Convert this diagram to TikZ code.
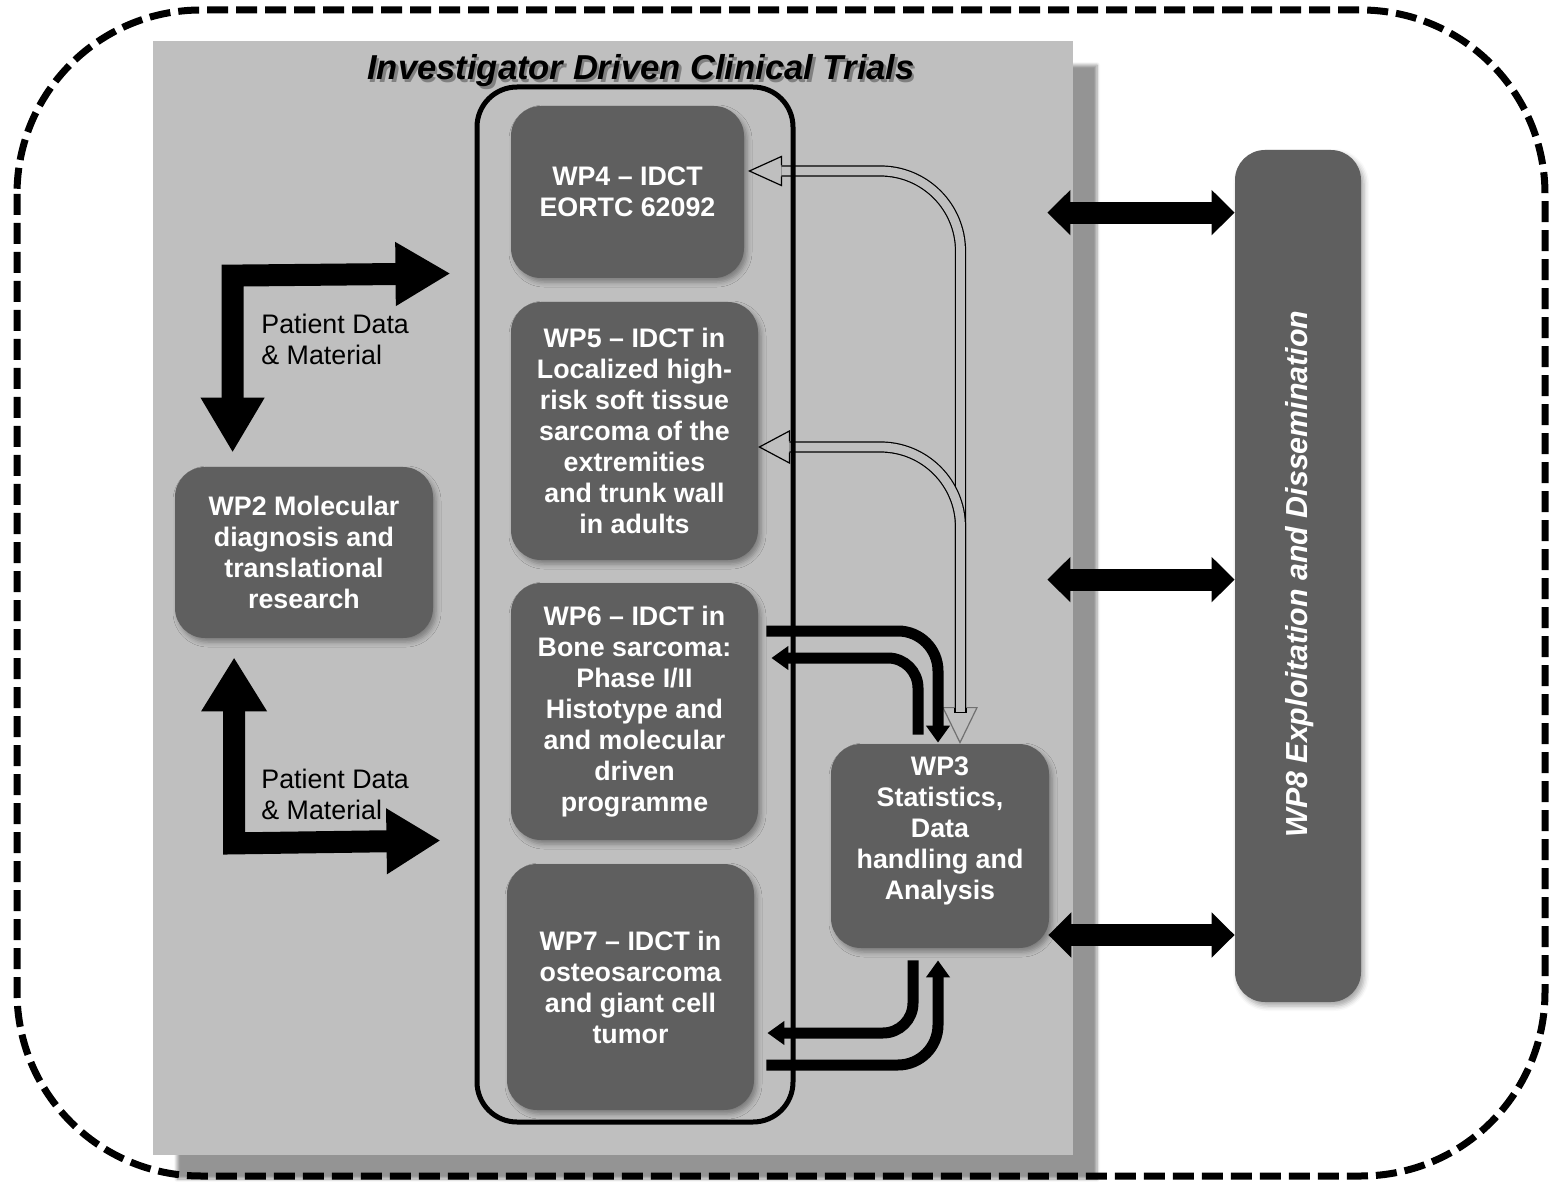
\documentclass[tikz,border=0pt]{standalone}
\usepackage{fontspec}
\setmainfont{Liberation Sans}
\usetikzlibrary{arrows.meta,calc,shadows.blur}

\definecolor{panelgray}{HTML}{BFBFBF}
\definecolor{boxgray}{HTML}{5F5F5F}
\definecolor{tipgray}{HTML}{707070}

\tikzset{
  panel/.style={rectangle, fill=panelgray, inner sep=0pt,
    blur shadow={shadow xshift=12pt, shadow yshift=-12pt, shadow blur radius=1.5pt,
      shadow blur steps=6, shadow opacity=42}},
  wpbox/.style={rectangle, rounded corners=15pt, fill=boxgray, inner sep=0pt,
    text=white, align=center, font=\bfseries\fontsize{13.4}{15.5}\selectfont,
    blur shadow={shadow xshift=1.5pt, shadow yshift=-2pt, shadow blur radius=2.5pt, shadow opacity=35}},
  wptext/.style={text=white, align=center, inner sep=0pt,
    font=\bfseries\fontsize{13.4}{15.5}\selectfont},
  note/.style={anchor=west, align=left, inner sep=0pt, font=\fontsize{13.4}{15.5}\selectfont},
  title/.style={font=\bfseries\itshape\fontsize{17.3}{20}\selectfont, inner sep=0pt},
  bigL/.style={draw=black, line width=11pt, line join=miter},
  link/.style={draw=black, line width=11pt,
    {Triangle[length=11.5pt,width=22pt]}-{Triangle[length=11.5pt,width=22pt]}},
  flow/.style={draw=black, line width=5.5pt, -{Triangle[length=8.5pt,width=11.5pt]}},
  hollow/.style={draw=black, line width=0.6pt, double=panelgray, double distance=4.4pt,
    rounded corners=40pt},
  hollowtip/.style={draw=black, line width=0.6pt, line join=miter},
}

\begin{document}
\begin{tikzpicture}[x=0.5pt, y=-0.5pt]
  \useasboundingbox (0,0) rectangle (1549,1182);

  % grey trial area with its drop shadow
  \node[panel, minimum width=460pt, minimum height=557pt] (idct) at (613,598) {};

  % dashed project frame
  \draw[line width=3.5pt, dash pattern=on 10.5pt off 4pt, rounded corners=92pt]
    (17,10) rectangle (1545,1176);

  % title of the trial area
  \node[title, text=black!60, opacity=0.7] at (643.5,73.5) {Investigator Driven Clinical Trials};
  \node[title] (ttl) at (641,71) {Investigator Driven Clinical Trials};

  % work package boxes
  \node[wpbox, minimum width=116.5pt, minimum height=86pt] (wp4) at (627.5,192)
    {WP4 -- IDCT\\EORTC 62092};
  \node[wpbox, minimum width=123.5pt, minimum height=129pt] (wp5) at (634.5,431)
    {WP5 -- IDCT in\\Localized high-\\risk soft tissue\\sarcoma of the\\extremities\\and trunk wall\\in adults};
  \node[wpbox, minimum width=123.5pt, minimum height=128.5pt] (wp6) at (634.5,711.5)
    {WP6 -- IDCT in\\Bone sarcoma:\\Phase I/II\\Histotype and\\and molecular\\driven\\programme};
  \node[wpbox, minimum width=123.5pt, minimum height=123pt] (wp7) at (630.5,987)
    {WP7 -- IDCT in\\osteosarcoma\\and giant cell\\tumor};
  \node[wpbox, minimum width=129pt, minimum height=85.5pt] (wp2) at (304,552.5)
    {WP2 Molecular\\diagnosis and\\translational\\research};
  \node[wpbox, minimum width=109pt, minimum height=102pt] (wp3) at (940,846) {};
  \node[wptext] at ($(wp3.center)+(0,-15)$)
    {WP3\\Statistics,\\Data\\handling and\\Analysis};
  \node[wpbox, minimum width=63pt, minimum height=426pt] (wp8) at (1298,576) {};
  \node[wptext, rotate=90, font=\bfseries\itshape\fontsize{15.2}{17}\selectfont]
    at ($(wp8.center)+(2,-2)$) {WP8 Exploitation and Dissemination};

  % hollow double-line arrows between WP3 and WP4 / WP5
  \coordinate (h4b) at ($(wp4.east)+(37,-21)$);
  \coordinate (h5b) at ($(wp5.east)+(31,16)$);
  \coordinate (h3b) at ($(wp3.north)+(20.5,-31)$);
  \draw[hollow] (h4b) -- (h4b -| h3b) -- (h3b);
  \draw[hollow] (h5b) -- (h5b -| h3b) -- (h3b);
  \draw[hollowtip] ($(h4b)+(0,-5.5)$) -- ++(0,-9) -- ++(-32,14.5) -- ++(32,14.5) -- ++(0,-9);
  \draw[hollowtip] ($(h5b)+(0,-5.5)$) -- ++(0,-10.5) -- ++(-30,16) -- ++(30,16) -- ++(0,-10.5);
  \draw[hollowtip, draw=tipgray] ($(h3b)+(-5.5,-5)$) -- ++(-12,0) -- ++(17,35) -- ++(17,-35)
    -- ++(-11,0);
  \draw[hollowtip] ($(h3b)+(-5.5,-5)$) -- ++(0,5) -- ++(11,0) -- ++(0,-5);

  % thick arrows between WP3 and WP6 / WP7
  \coordinate (f6a) at ($(wp6.east)+(8,-80.5)$);
  \coordinate (f6b) at ($(wp6.east)+(13,-53.5)$);
  \coordinate (f7a) at ($(wp7.east)+(13,46)$);
  \coordinate (f7b) at ($(wp7.east)+(12,78)$);
  \coordinate (e6a) at ($(wp3.north)+(-2,-1)$);
  \coordinate (s6b) at ($(wp3.north)+(-22,-9)$);
  \coordinate (s7a) at ($(wp3.south)+(-27,12)$);
  \coordinate (e7b) at ($(wp3.south)+(-2,12)$);
  \draw[flow, rounded corners=20pt] (f6a) -- (f6a -| e6a) -- (e6a);
  \draw[flow, rounded corners=15pt] (s6b) -- (s6b |- f6b) -- (f6b);
  \draw[flow, rounded corners=15pt] (s7a) -- (s7a |- f7a) -- (f7a);
  \draw[flow, rounded corners=20pt] (f7b) -- (f7b -| e7b) -- (e7b);

  % grouping frame round WP4-WP7
  \node[draw=black, line width=2.5pt, rounded corners=20pt, inner sep=0pt,
    minimum width=158pt, minimum height=517.5pt] (grp) at (635,604.5) {};

  % patient data and material flows between WP2 and the trials
  \draw[bigL, {Triangle[length=27.5pt,width=30pt]}-{Triangle[length=27.5pt,width=30pt]}]
    ($(wp2.north west)+(58,-14)$) -- ($(wp2.north west)+(58,-191)$) -- ($(grp.north west)+(-24,189)$);
  \draw[bigL, {Triangle[length=27pt,width=31pt]}-{Triangle[length=27pt,width=31pt]}]
    ($(wp2.south west)+(59.5,19)$) -- ($(wp2.south west)+(59.5,205)$) -- ($(grp.north west)+(-34,756)$);
  \node[note] (pd1) at (261,339) {Patient Data\\\& Material};
  \node[note] (pd2) at (261,794) {Patient Data\\\& Material};

  % exchange with WP8
  \coordinate (l1) at ($(idct.north east)+(-26,172)$);
  \coordinate (l2) at ($(idct.north east)+(-26,539)$);
  \coordinate (l3) at ($(wp3.east)+(-1,89)$);
  \draw[link] (l1) -- (l1 -| wp8.west);
  \draw[link] (l2) -- (l2 -| wp8.west);
  \draw[link] (l3) -- (l3 -| wp8.west);
\end{tikzpicture}
\end{document}
